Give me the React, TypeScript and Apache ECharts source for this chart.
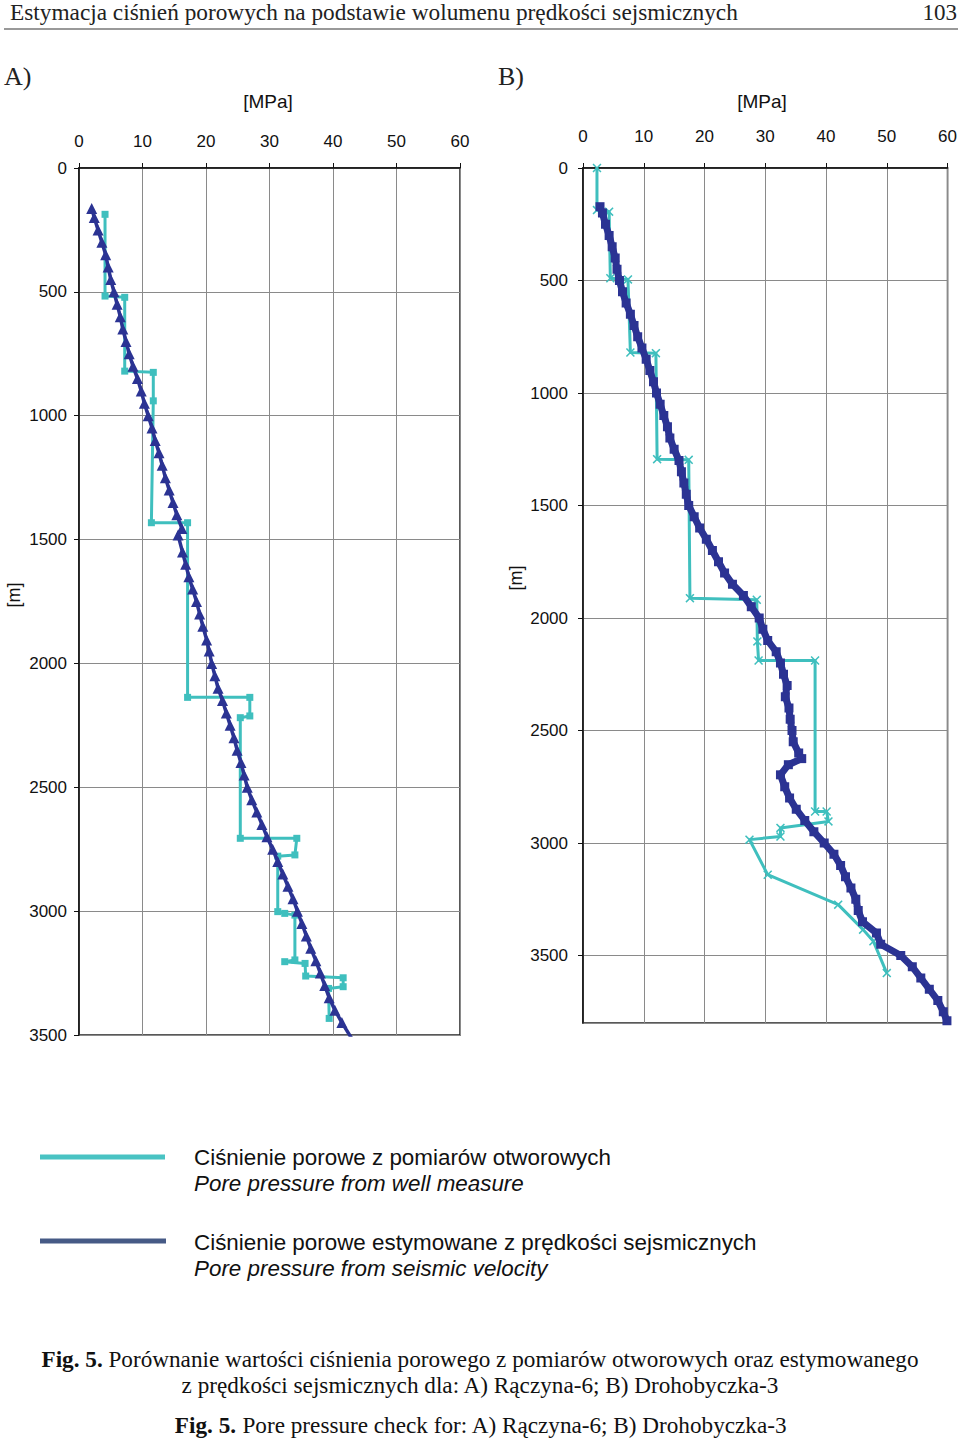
import React, { useEffect, useRef } from "react";
import * as echarts from "echarts";

// ---------- Data ----------
const pressureTicks = [0, 10, 20, 30, 40, 50, 60];

// A) Rączyna-6 — pore pressure from well measure
const wellA_depth = [187, 517, 522, 820, 825, 940, 1432, 1432, 2137, 2137, 2212, 2219, 2706, 2706, 2773, 2778, 3002, 3009, 3016, 3197, 3204, 3211, 3262, 3269, 3305, 3312, 3433];
const wellA_mpa = [4.1, 4.1, 7.2, 7.2, 11.7, 11.7, 11.4, 17.1, 17.1, 26.9, 26.9, 25.4, 25.4, 34.3, 34.0, 31.3, 31.3, 32.4, 34.0, 34.0, 32.4, 35.6, 35.7, 41.6, 41.6, 39.3, 39.4];

// A) Rączyna-6 — pore pressure from seismic velocity
const seisA_depth = [163, 200, 250, 300, 350, 400, 450, 500, 550, 600, 650, 700, 750, 800, 850, 900, 950, 1000, 1050, 1100, 1150, 1200, 1250, 1300, 1350, 1400, 1455, 1482, 1550, 1600, 1650, 1700, 1750, 1800, 1850, 1905, 1950, 2000, 2050, 2100, 2150, 2200, 2250, 2300, 2350, 2400, 2450, 2500, 2550, 2600, 2650, 2700, 2750, 2800, 2850, 2900, 2950, 3000, 3050, 3100, 3150, 3200, 3250, 3300, 3350, 3400, 3450, 3512];
const seisA_mpa = [2.0, 2.4, 3.0, 3.6, 4.2, 4.6, 5.0, 5.5, 6.0, 6.5, 6.9, 7.4, 7.9, 8.5, 9.2, 9.8, 10.3, 10.9, 11.5, 12.0, 12.6, 13.1, 13.6, 14.2, 14.8, 15.4, 16.2, 15.6, 16.3, 16.8, 17.3, 17.9, 18.5, 19.0, 19.5, 20.1, 20.5, 20.9, 21.4, 21.9, 22.6, 23.2, 23.8, 24.4, 24.9, 25.5, 26.0, 26.5, 27.2, 28.0, 28.8, 29.6, 30.5, 31.3, 32.1, 32.9, 33.7, 34.4, 35.1, 35.8, 36.5, 37.3, 38.0, 38.7, 39.4, 40.3, 41.4, 42.9];

// B) Drohobyczka-3 — pore pressure from well measure
const wellB_depth = [0, 187, 194, 490, 495, 820, 823, 1294, 1297, 1912, 1919, 2104, 2189, 2189, 2860, 2860, 2904, 2933, 2971, 2985, 3141, 3274, 3385, 3437, 3578];
const wellB_mpa = [2.3, 2.3, 4.3, 4.5, 7.4, 7.8, 12.0, 12.2, 17.4, 17.6, 28.6, 28.7, 28.9, 38.2, 38.2, 40.1, 40.4, 32.5, 32.5, 27.4, 30.4, 42.0, 46.1, 47.8, 50.0];

// B) Drohobyczka-3 — pore pressure from seismic velocity
const seisB_depth = [172, 200, 250, 300, 350, 400, 450, 500, 550, 600, 650, 700, 750, 800, 850, 900, 950, 1000, 1050, 1100, 1150, 1200, 1250, 1300, 1350, 1400, 1450, 1500, 1550, 1600, 1650, 1700, 1750, 1800, 1850, 1900, 1950, 2000, 2050, 2100, 2150, 2200, 2250, 2300, 2350, 2400, 2450, 2500, 2550, 2600, 2625, 2652, 2697, 2750, 2800, 2850, 2900, 2950, 3000, 3050, 3100, 3150, 3200, 3250, 3300, 3350, 3400, 3450, 3500, 3550, 3600, 3650, 3700, 3750, 3790];
const seisB_mpa = [2.8, 3.2, 3.7, 4.3, 4.8, 5.3, 5.6, 6.0, 6.5, 7.1, 7.8, 8.4, 9.0, 9.7, 10.4, 11.0, 11.6, 12.1, 12.7, 13.3, 13.9, 14.3, 15.0, 15.8, 16.2, 16.6, 17.0, 17.4, 18.3, 19.2, 20.3, 21.3, 22.3, 23.3, 24.6, 26.4, 27.7, 29.0, 29.6, 30.4, 31.8, 32.5, 33.0, 33.6, 33.3, 33.9, 34.1, 34.4, 34.6, 35.5, 36.0, 33.8, 32.5, 33.2, 34.0, 35.1, 36.5, 38.0, 39.7, 41.3, 42.4, 43.2, 44.1, 44.9, 45.3, 46.0, 48.3, 49.0, 52.3, 54.2, 55.6, 57.0, 58.4, 59.3, 59.9];

const legendLabels = [
  ["Ciśnienie porowe z pomiarów otworowych", "Pore pressure from well measure"],
  ["Ciśnienie porowe estymowane z prędkości sejsmicznych", "Pore pressure from seismic velocity"],
];

const headerTitle = "Estymacja ciśnień porowych na podstawie wolumenu prędkości sejsmicznych";
const pageNumber = "103";
const captionPL1 = "Porównanie wartości ciśnienia porowego z pomiarów otworowych oraz estymowanego";
const captionPL2 = "z prędkości sejsmicznych dla: A) Rączyna-6; B) Drohobyczka-3";
const captionEN = "Pore pressure check for: A) Rączyna-6; B) Drohobyczka-3";

// ---------- Styling ----------
const CYAN = "#3fbfbe";
const NAVY = "#2b3393";
const SANS = "Liberation Sans, Arial, sans-serif";
const SERIF = "Liberation Serif, Times New Roman, serif";
const X_MARK = "path://M0,1.2L1.2,0L5,3.8L8.8,0L10,1.2L6.2,5L10,8.8L8.8,10L5,6.2L1.2,10L0,8.8L3.8,5Z";

const zip = (xs: number[], ys: number[]) => xs.map((x, i) => [x, ys[i]]);

export default function App() {
  const ref = useRef<HTMLDivElement>(null);
  useEffect(() => {
    if (!ref.current) return;
    const chart = echarts.init(ref.current, undefined, { renderer: "svg" });

    const xAxisBase = (gridIndex: number, margin: number) => ({
      type: "value",
      gridIndex,
      position: "top",
      min: pressureTicks[0],
      max: pressureTicks[pressureTicks.length - 1],
      interval: 10,
      axisLine: { show: true, lineStyle: { color: "#111", width: 1.5 } },
      axisTick: { show: true, length: 5, lineStyle: { color: "#111" } },
      axisLabel: { margin, color: "#111", fontSize: 17, fontFamily: SANS },
      splitLine: { show: true, lineStyle: { color: "#8a8a8a", width: 1 } },
    });
    const yAxisBase = (gridIndex: number, max: number, margin: number) => ({
      type: "value",
      gridIndex,
      inverse: true,
      min: 0,
      max,
      interval: 500,
      axisLine: { show: true, lineStyle: { color: "#111", width: 1.5 } },
      axisTick: { show: true, length: 5, lineStyle: { color: "#111" } },
      axisLabel: {
        margin,
        color: "#111",
        fontSize: 17,
        fontFamily: SANS,
        showMaxLabel: max % 500 === 0,
        formatter: (v: number) => (v % 500 === 0 ? String(v) : ""),
      },
      splitLine: { show: true, lineStyle: { color: "#8a8a8a", width: 1 } },
    });

    const option: any = {
      animation: false,
      backgroundColor: "#ffffff",
      grid: [
        { left: 79, top: 168, width: 381, height: 867, show: true, borderColor: "#222", borderWidth: 1.5, containLabel: false },
        { left: 583, top: 168, width: 367, height: 855, show: true, borderColor: "#222", borderWidth: 1.5, containLabel: false },
      ],
      xAxis: [xAxisBase(0, 18), xAxisBase(1, 23)],
      yAxis: [yAxisBase(0, 3500, 12), yAxisBase(1, 3800, 15)],
      series: [
        {
          name: "wellA",
          type: "line",
          xAxisIndex: 0,
          yAxisIndex: 0,
          data: zip(wellA_mpa, wellA_depth),
          lineStyle: { color: CYAN, width: 3 },
          itemStyle: { color: CYAN },
          symbol: "rect",
          symbolSize: 7,
          z: 3,
        },
        {
          name: "seisA",
          type: "line",
          xAxisIndex: 0,
          yAxisIndex: 0,
          data: zip(seisA_mpa, seisA_depth),
          lineStyle: { color: NAVY, width: 3.5 },
          itemStyle: { color: NAVY },
          symbol: "triangle",
          symbolSize: 11,
          z: 4,
        },
        {
          name: "wellB",
          type: "line",
          xAxisIndex: 1,
          yAxisIndex: 1,
          data: zip(wellB_mpa, wellB_depth),
          lineStyle: { color: CYAN, width: 3 },
          itemStyle: { color: CYAN },
          symbol: X_MARK,
          symbolSize: 9,
          clip: false,
          z: 3,
        },
        {
          name: "seisB",
          type: "line",
          xAxisIndex: 1,
          yAxisIndex: 1,
          data: zip(seisB_mpa, seisB_depth),
          lineStyle: { color: NAVY, width: 7 },
          itemStyle: { color: NAVY },
          symbol: "rect",
          symbolSize: 9,
          z: 4,
        },
      ],
      graphic: [
        // header
        { type: "text", x: 10, y: 12, style: { text: headerTitle, font: `23.3px ${SERIF}`, fill: "#222", verticalAlign: "middle" } },
        { type: "text", x: 957, y: 12, style: { text: pageNumber, font: `23px ${SERIF}`, fill: "#222", align: "right", verticalAlign: "middle" } },
        { type: "line", shape: { x1: 4, y1: 29, x2: 958, y2: 29 }, style: { stroke: "#777", lineWidth: 1.5 } },
        // panel labels
        { type: "text", x: 4, y: 76, style: { text: "A)", font: `26px ${SERIF}`, fill: "#222", verticalAlign: "middle" } },
        { type: "text", x: 498, y: 76, style: { text: "B)", font: `26px ${SERIF}`, fill: "#222", verticalAlign: "middle" } },
        // axis titles
        { type: "text", x: 268, y: 101, style: { text: "[MPa]", font: `19px ${SANS}`, fill: "#111", align: "center", verticalAlign: "middle" } },
        { type: "text", x: 762, y: 101, style: { text: "[MPa]", font: `19px ${SANS}`, fill: "#111", align: "center", verticalAlign: "middle" } },
        { type: "text", x: 14, y: 595, rotation: Math.PI / 2, style: { text: "[m]", font: `18px ${SANS}`, fill: "#111", align: "center", verticalAlign: "middle" } },
        { type: "text", x: 516, y: 578, rotation: Math.PI / 2, style: { text: "[m]", font: `18px ${SANS}`, fill: "#111", align: "center", verticalAlign: "middle" } },
        // legend
        { type: "line", shape: { x1: 40, y1: 1157, x2: 165, y2: 1157 }, style: { stroke: "#49c3c3", lineWidth: 5 } },
        { type: "text", x: 194, y: 1157, style: { text: legendLabels[0][0], font: `22.4px ${SANS}`, fill: "#111", verticalAlign: "middle" } },
        { type: "text", x: 194, y: 1183, style: { text: legendLabels[0][1], font: `italic 22.4px ${SANS}`, fill: "#111", verticalAlign: "middle" } },
        { type: "line", shape: { x1: 40, y1: 1241, x2: 166, y2: 1241 }, style: { stroke: "#465a86", lineWidth: 5 } },
        { type: "text", x: 194, y: 1242, style: { text: legendLabels[1][0], font: `22.4px ${SANS}`, fill: "#111", verticalAlign: "middle" } },
        { type: "text", x: 194, y: 1268, style: { text: legendLabels[1][1], font: `italic 22.4px ${SANS}`, fill: "#111", verticalAlign: "middle" } },
        // caption
        {
          type: "text", x: 480, y: 1359,
          style: {
            text: `{b|Fig. 5.} ${captionPL1}`,
            rich: { b: { font: `bold 23.2px ${SERIF}`, fill: "#111" } },
            font: `23.2px ${SERIF}`, fill: "#111", align: "center", verticalAlign: "middle",
          },
        },
        { type: "text", x: 480, y: 1385, style: { text: captionPL2, font: `23.2px ${SERIF}`, fill: "#111", align: "center", verticalAlign: "middle" } },
        {
          type: "text", x: 481, y: 1425,
          style: {
            text: `{b|Fig. 5.} ${captionEN}`,
            rich: { b: { font: `bold 23.2px ${SERIF}`, fill: "#111" } },
            font: `23.2px ${SERIF}`, fill: "#111", align: "center", verticalAlign: "middle",
          },
        },
      ],
    };

    chart.setOption(option);
    return () => chart.dispose();
  }, []);

  return (
    <div
      ref={ref}
      style={{ position: "absolute", left: 0, top: 0, width: 960, height: 1442, background: "#fff" }}
    />
  );
}
